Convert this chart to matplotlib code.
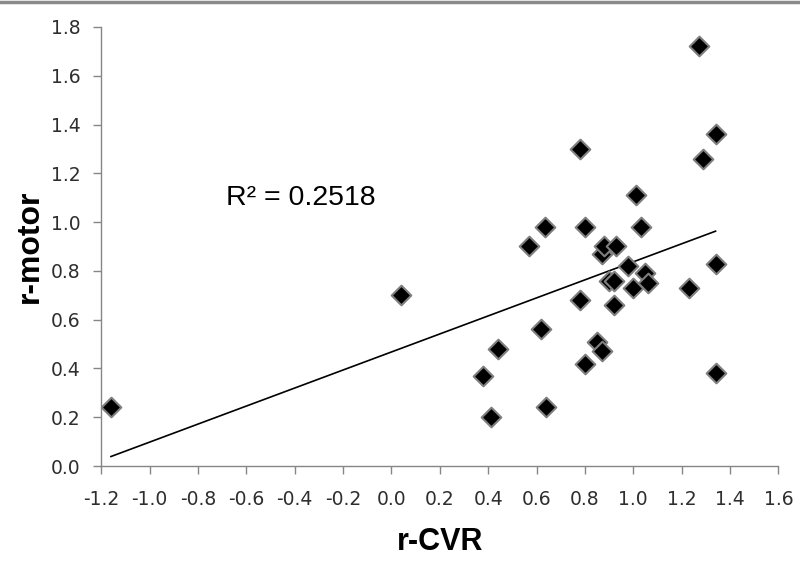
import numpy as np
import matplotlib
matplotlib.use("Agg")
import matplotlib.pyplot as plt
from matplotlib.lines import Line2D

# values
r_cvr = [-1.16, 0.04, 0.38, 0.41, 0.44, 0.57, 0.62, 0.635, 0.64, 0.78,
         0.78, 0.80, 0.80, 0.85, 0.87, 0.87, 0.88, 0.90, 0.92, 0.92,
         0.93, 0.98, 1.00, 1.01, 1.03, 1.05, 1.06, 1.23, 1.27, 1.29,
         1.34, 1.34, 1.34]
r_motor = [0.24, 0.70, 0.37, 0.20, 0.48, 0.90, 0.56, 0.98, 0.24, 1.30,
           0.68, 0.98, 0.42, 0.51, 0.47, 0.87, 0.90, 0.76, 0.76, 0.66,
           0.90, 0.82, 0.73, 1.11, 0.98, 0.79, 0.75, 0.73, 1.72, 1.26,
           1.36, 0.83, 0.38]
r2 = 0.2518

xticks = np.round(np.arange(-1.2, 1.61, 0.2), 1)
yticks = np.round(np.arange(0, 1.81, 0.2), 1)

x = np.array(r_cvr)
y = np.array(r_motor)

fig = plt.figure(figsize=(8, 5.62), dpi=100)
ax = fig.add_axes([0.1266, 0.1708, 0.8464, 0.7812])

# linear trend line
k, b = np.polyfit(x, y, 1)
xl = np.array([x.min(), x.max()])
ax.plot(xl, k * xl + b, color="black", lw=1.2, zorder=2)

ax.scatter(x, y, marker="D", s=100, c="black", edgecolors="#7f7f7f",
           linewidths=1.5, zorder=3)

ax.text(-0.685, 1.07, "R\u00b2 = %.4f" % r2, fontsize=20.5,
        family="Liberation Sans", ha="left", va="baseline")

ax.set_xlim(-1.2, 1.6)
ax.set_ylim(0, 1.8)
ax.set_xticks(xticks)
ax.set_yticks(yticks)
ax.set_xticklabels(["%.1f" % (v + 0.0) for v in xticks])
ax.set_yticklabels(["%.1f" % (v + 0.0) for v in yticks])

for s in ["top", "right"]:
    ax.spines[s].set_visible(False)
for s in ["left", "bottom"]:
    ax.spines[s].set_color("#868686")
    ax.spines[s].set_linewidth(1.0)
ax.tick_params(direction="out", length=6, width=1.0, color="#868686",
               labelsize=13.5, labelcolor="#2e2e2e")
ax.tick_params(axis="x", pad=11)
ax.tick_params(axis="y", pad=9)
for lab in ax.get_xticklabels() + ax.get_yticklabels():
    lab.set_family("DejaVu Sans")

ax.set_xlabel("r-CVR", fontsize=22, fontweight="bold",
              family="Liberation Sans", labelpad=13)
ax.set_ylabel("r-motor", fontsize=23, fontweight="bold",
              family="Liberation Sans", labelpad=4)

# grey border line at the very top of the picture
fig.add_artist(Line2D([0, 1], [0.997, 0.997], transform=fig.transFigure,
                      color="#8a8a8a", lw=2.5))

fig.savefig("out.png", dpi=100)
